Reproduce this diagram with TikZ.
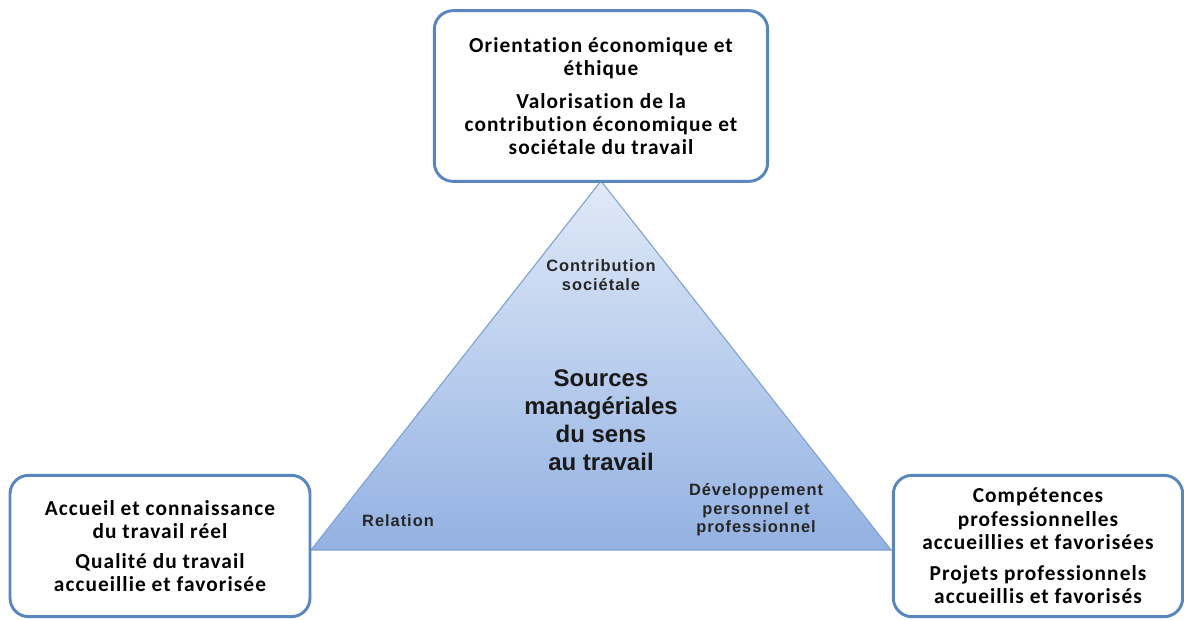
\documentclass[tikz,border=0pt]{standalone}
\usepackage{fontspec}
\setmainfont{Carlito}[LetterSpace=5,Ligatures=NoCommon]
\newfontfamily\arialf{Liberation Sans}
\newfontfamily\arialw{Liberation Sans}[LetterSpace=6]
\usetikzlibrary{positioning}

\definecolor{boxblue}{HTML}{5A86BF}
\definecolor{tritop}{HTML}{E0EAF8}
\definecolor{tribot}{HTML}{93B1E2}
\definecolor{triedge}{HTML}{7E9FD3}

\begin{document}
\begin{tikzpicture}[x=0.75pt,y=-0.75pt,
pole/.style={rectangle,draw=boxblue,line width=2.2pt,rounded corners=14pt,fill=white,align=center,font=\bfseries\fontsize{16}{17.4}\selectfont,inner sep=2pt},
corner/.style={align=center,font=\arialw\bfseries\fontsize{12.3}{14}\selectfont,text=black!85},
core/.style={align=center,font=\arialf\bfseries\fontsize{18}{21}\selectfont,text=black!90}]
\useasboundingbox (0,0) rectangle (1184,619);

% triangle
\coordinate (apex) at (601,181);
\coordinate (baseL) at (311,550);
\coordinate (baseR) at (891,550);
\shade[top color=tritop,bottom color=tribot] (apex) -- (baseR) -- (baseL) -- cycle;
\draw[triedge,line width=0.8pt] (apex) -- (baseR) -- (baseL) -- cycle;

% the three poles
\node (ethic) [pole,minimum width=250pt,minimum height=128pt] at (601,96)
{Orientation économique et\\ éthique\\[7pt]
Valorisation de la\\ contribution économique et\\ sociétale du travail};

\node (work) [pole,minimum width=225pt,minimum height=106pt] at (160,546)
{Accueil et connaissance\\ du travail réel\\[5pt]
Qualité du travail\\ accueillie et favorisée};

\node (skill) [pole,minimum width=217pt,minimum height=106pt] at (1038,546)
{Compétences\\ professionnelles\\ accueillies et favorisées\\[6pt]
Projets professionnels\\ accueillis et favorisés};

% labels in the triangle
\node (contrib) [corner] at (601,275) {Contribution\\ sociétale};
\node (relation) [corner] at (398,521) {Relation};
\node (develop) [corner] at (756,510) {Développement\\ personnel et\\ professionnel};
\node (sources) [core] at (601,420) {Sources\\ managériales\\ du sens\\ au travail};

\end{tikzpicture}
\end{document}
